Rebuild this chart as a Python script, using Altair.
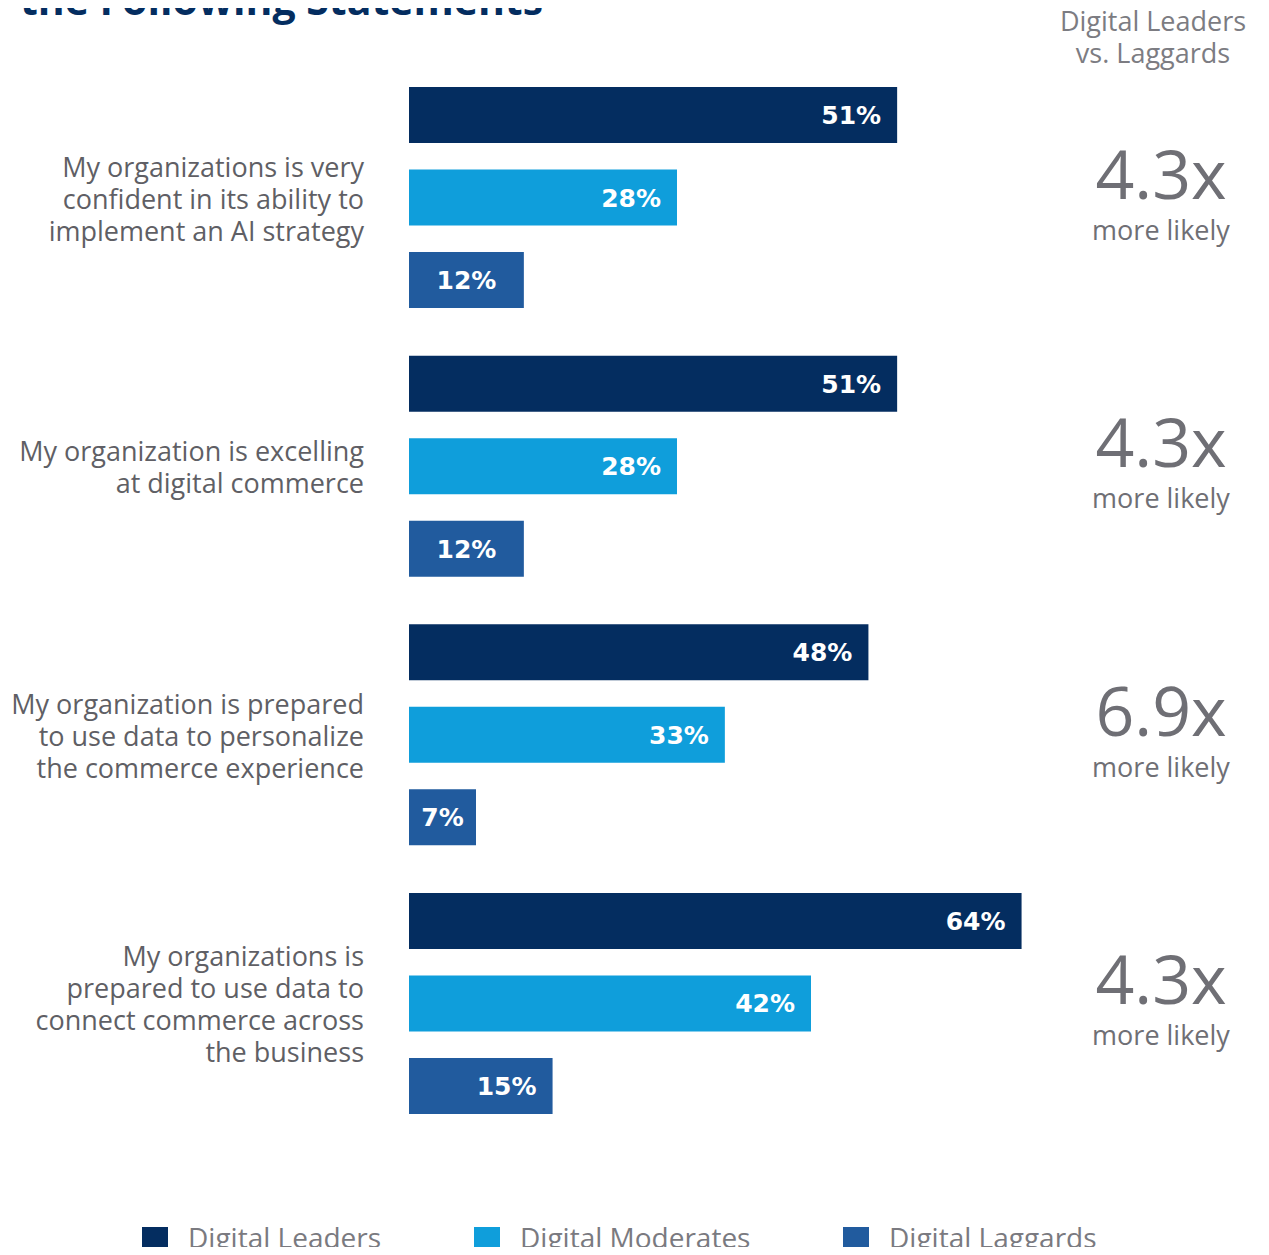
import altair as alt
import pandas as pd

title_text = "the Following Statements"
header_text = "Digital Leaders|vs. Laggards"

statements = [
    "My organizations is very|confident in its ability to|implement an AI strategy",
    "My organization is excelling|at digital commerce",
    "My organization is prepared|to use data to personalize|the commerce experience",
    "My organizations is|prepared to use data to|connect commerce across|the business",
]
segments = ["Digital Leaders", "Digital Moderates", "Digital Laggards"]
leaders = [51, 51, 48, 64]
moderates = [28, 28, 33, 42]
laggards = [12, 12, 7, 15]
multipliers = ["4.3x", "4.3x", "6.9x", "4.3x"]
more_text = "more likely"

colors = ["#042d60", "#0f9edb", "#215b9e"]

rows = []
for i, s in enumerate(statements):
    for seg, vals in zip(segments, [leaders, moderates, laggards]):
        rows.append({"statement": s, "segment": seg, "value": vals[i],
                     "label": f"{vals[i]}%"})
bars_df = pd.DataFrame(rows)
stmt_df = pd.DataFrame({"statement": statements, "mult": multipliers,
                        "more": [more_text] * len(statements),
                        "nlines": [len(s.split("|")) for s in statements]})

y_enc = alt.Y("statement:N", sort=statements, axis=None,
              scale=alt.Scale(paddingInner=0.177, paddingOuter=0))
yoff_enc = alt.YOffset("segment:N", sort=segments,
                       scale=alt.Scale(paddingInner=0.321, paddingOuter=0))
x_scale = alt.Scale(domain=[0, 70])
x_enc = alt.X("value:Q", axis=None, scale=x_scale)

base = alt.Chart(bars_df)

bars = base.mark_bar().encode(
    x=x_enc, y=y_enc, yOffset=yoff_enc,
    color=alt.Color("segment:N", sort=segments,
                    scale=alt.Scale(domain=segments, range=colors),
                    legend=alt.Legend(title=None, orient="none",
                                      legendX=-268, legendY=1139,
                                      direction="horizontal",
                                      symbolType="square", symbolSize=676,
                                      symbolStrokeWidth=0, symbolOpacity=1,
                                      labelFont="Open Sans", labelFontSize=28,
                                      labelColor="#7a7a80", labelOffset=19,
                                      labelLimit=500,
                                      columnPadding=91, padding=0)),
)

label_style = dict(baseline="middle", dy=1, font="DejaVu Sans",
                   fontWeight="bold", fontSize=25, color="white")

bar_labels_big = base.transform_filter("datum.value >= 15").mark_text(
    align="right", dx=-16, **label_style).encode(
    x=x_enc, y=y_enc, yOffset=yoff_enc, text="label:N")

bar_labels_small = base.transform_filter("datum.value < 15").transform_calculate(
    mid="datum.value / 2").mark_text(align="center", **label_style).encode(
    x=alt.X("mid:Q", axis=None, scale=x_scale), y=y_enc, yOffset=yoff_enc,
    text="label:N")

stmt_layers = []
for n in sorted(set(stmt_df["nlines"])):
    stmt_layers.append(
        alt.Chart(stmt_df).transform_filter(f"datum.nlines == {n}").mark_text(
            align="right", baseline="middle", lineBreak="|", lineHeight=32,
            dy=-(n - 1) * 16 + 3,
            font="Open Sans", fontSize=27, color="#5f5f65").encode(
            x=alt.value(-45), y=y_enc, text="statement:N"))

mult_text = alt.Chart(stmt_df).mark_text(
    align="center", baseline="middle", dy=-19,
    font="Open Sans", fontSize=68, color="#6f6f75").encode(
    x=alt.value(752), y=y_enc, text="mult:N")

more_t = alt.Chart(stmt_df).mark_text(
    align="center", baseline="middle", dy=34,
    font="Open Sans", fontSize=27, color="#6f6f75").encode(
    x=alt.value(752), y=y_enc, text="more:N")

header = alt.Chart(pd.DataFrame({"t": [header_text]})).mark_text(
    align="center", baseline="middle", lineBreak="|", lineHeight=32,
    font="Open Sans", fontSize=27, color="#7c7c82").encode(
    x=alt.value(744), y=alt.value(-64), text="t:N")

title = alt.Chart(pd.DataFrame({"t": [title_text]})).mark_text(
    align="left", baseline="alphabetic",
    font="Open Sans", fontWeight="bold", fontSize=41, color="#042d60").encode(
    x=alt.value(-389), y=alt.value(-72), text="t:N")

chart = alt.layer(bars, bar_labels_big, bar_labels_small, *stmt_layers,
                  mult_text, more_t, header, title).properties(
    width=670, height=1027,
    autosize=alt.AutoSizeParams(type="none"),
    padding={"left": 401, "top": 79, "right": 179, "bottom": 133},
).configure(background="white").configure_view(stroke=None, strokeWidth=0)

chart.save("out.html", embed_options={"renderer": "svg", "actions": False})
